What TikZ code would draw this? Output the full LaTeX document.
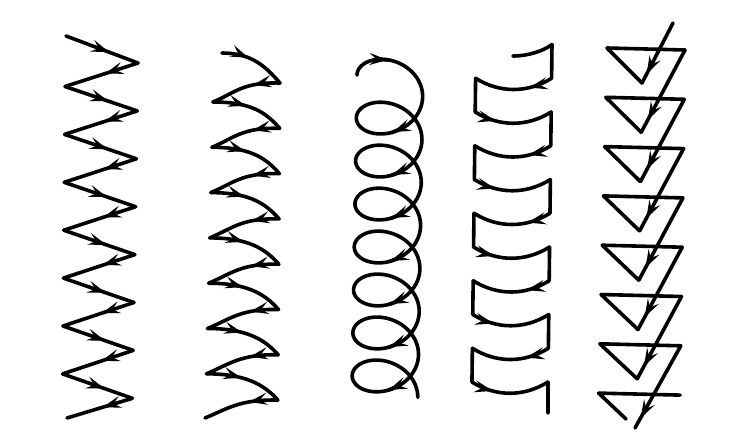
\documentclass[tikz,border=0pt]{standalone}
\usepackage{tikz}
\usetikzlibrary{arrows.meta,decorations.markings}
\tikzset{
  ln/.style={line width=3.6pt,line cap=round,line join=round},
  arrat/.style={postaction={decorate},decoration={markings,mark=at position #1 with {\arrow{Stealth[length=18pt,width=12pt,inset=7pt]}}}},
}
\begin{document}
\begin{tikzpicture}[x=1pt,y=-1pt]
\fill[white] (0,0) rectangle (738,432);
\useasboundingbox (0,0) rectangle (738,432);
% zigzag
\coordinate (zs) at (66,36);
\coordinate (ze) at (67,418);
\foreach \k in {0,...,7} \coordinate (zr\k) at ({138-0.8*\k},{63+47.9*\k});
\foreach \k in {0,...,6} \coordinate (zl\k) at ({65-0.4*\k},{86.5+47.9*\k});
\draw[ln,arrat=0.6] (zs) -- (zr0);
\foreach \k in {0,...,6} {
  \pgfmathtruncatemacro\n{\k+1}
  \draw[ln,arrat=0.45] (zr\k) -- (zl\k);
  \draw[ln,arrat=0.6] (zl\k) -- (zr\n);
}
\draw[ln,arrat=0.45] (zr7) -- (ze);
% curved saw
\coordinate (cs) at (222,53);
\coordinate (ce) at (205,418);
\foreach \k in {0,...,7} \coordinate (ct\k) at ({280-0.3*\k},{83+45.3*\k});
\foreach \k in {0,...,6} \coordinate (cu\k) at ({213-1.1*\k},{102+45.3*\k});
\draw[ln,arrat=0.4] (cs) .. controls +(30,0) and +(-14,-16) .. (ct0);
\foreach \k in {0,...,6} {
  \pgfmathtruncatemacro\n{\k+1}
  \draw[ln,arrat=0.38] (ct\k) .. controls +(-38,-1) and +(22,-9) .. (cu\k);
  \draw[ln,arrat=0.45] (cu\k) .. controls +(38,0) and +(-14,-16) .. (ct\n);
}
\draw[ln,arrat=0.38] (ct7) .. controls +(-38,-1) and +(22,-9) .. (ce);
% helix
\draw[ln] plot[variable=\t,domain=180:2880,samples=500] ({390+33*cos(\t)-0.11*(rad(\t)-pi)},{53.6+25.7*sin(\t)+6.84*rad(\t)});
\foreach \a in {268,446,806,1166,1526,1886,2246,2606} {
  \pgfmathsetmacro\b{\a-20}
  \coordinate (hb) at ({390+33*cos(\b)-0.11*(rad(\b)-pi)},{53.6+25.7*sin(\b)+6.84*rad(\b)});
  \coordinate (ha) at ({390+33*cos(\a)-0.11*(rad(\a)-pi)},{53.6+25.7*sin(\a)+6.84*rad(\a)});
  \draw[ln,arrat=0.9] (hb) -- (ha);
}
% brackets
\foreach \k in {0,...,10} {
  \coordinate (pr\k) at ({552-0.012*33.75*\k},{44.5+33.75*\k});
  \coordinate (pl\k) at ({476-0.012*33.75*\k},{44.5+33.75*\k});
}
\coordinate (ps) at (513,56);
\coordinate (pe) at (548,413);
\draw[ln] (ps) .. controls +(16,0) and +(-8,6) .. (pr0);
\foreach \k in {0,2,...,8} {
  \pgfmathtruncatemacro\n{\k+1}
  \draw[ln] (pr\k) -- (pr\n);
  \draw[ln,arrat=0.3] (pr\n) .. controls +(-24,15) and +(24,15) .. (pl\n);
}
\foreach \k in {1,3,...,9} {
  \pgfmathtruncatemacro\n{\k+1}
  \draw[ln] (pl\k) -- (pl\n);
  \draw[ln,arrat=0.28] (pl\n) .. controls +(24,15) and +(-24,15) .. (pr\n);
}
\draw[ln] (pr10) -- (pe);
% triangles
\coordinate (ts) at (673,23);
\coordinate (te) at (635,428);
\foreach \k in {0,...,7} {
  \coordinate (tl\k) at ({607-1.2*\k},{48+49.3*\k});
  \coordinate (tr\k) at ({685-0.7*\k},{50+49.3*\k});
  \coordinate (tb\k) at ({642-0.8*\k},{83+49.3*\k});
}
\coordinate (tc) at (626,419);
\draw[ln,arrat=0.85] (ts) -- (tb0);
\foreach \k in {0,...,6} {
  \pgfmathtruncatemacro\n{\k+1}
  \draw[ln] (tb\k) -- (tl\k) -- (tr\k);
}
\foreach \k in {0,...,5} {
  \pgfmathtruncatemacro\n{\k+1}
  \draw[ln,arrat=0.85] (tr\k) -- (tb\n);
}
\draw[ln,arrat=0.88] (tr6) -- (te);
\draw[ln] (tc) -- (tl7) -- (tr7);
\end{tikzpicture}
\end{document}
